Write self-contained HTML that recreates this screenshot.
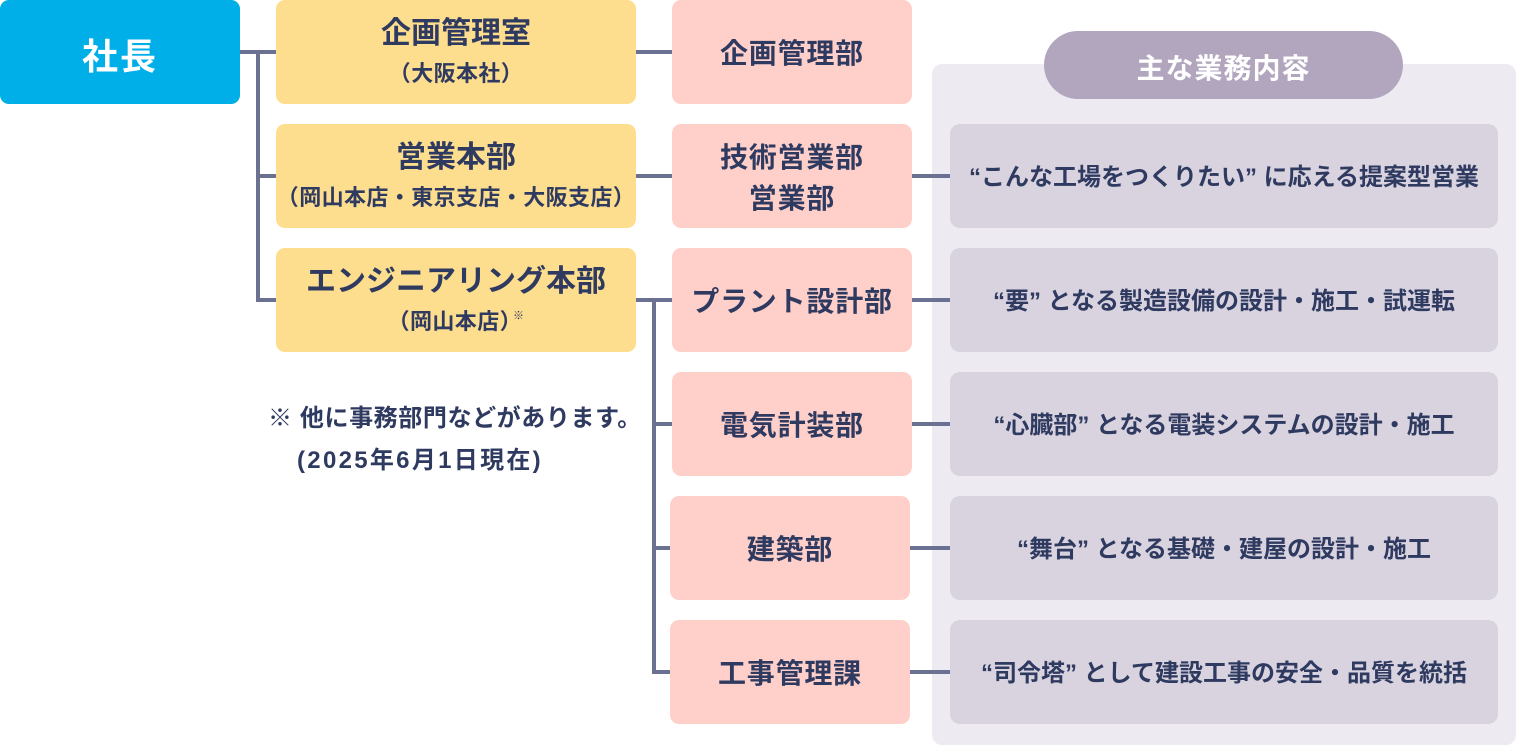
<!DOCTYPE html>
<html><head><meta charset="utf-8">
<style>
*{margin:0;padding:0;box-sizing:border-box}
html,body{width:1516px;height:746px;background:#fff;overflow:hidden}
body{position:relative;font-family:"Liberation Sans","Noto Sans CJK JP",sans-serif;font-weight:bold;color:#2f3a60}
.b{position:absolute;display:flex;flex-direction:column;align-items:center;justify-content:center;text-align:center;border-radius:9px;white-space:nowrap;padding-top:3px}
.ceo{left:0;top:0;width:240px;height:104px;background:#00aee8;color:#fff;font-size:36px;letter-spacing:2px}
.y{left:276px;width:360px;height:104px;background:#fddd8e}
.y .t{font-size:30px;line-height:40px;letter-spacing:0px}
.y .s{font-size:22px;line-height:40px;letter-spacing:0.4px}
.p{width:240px;height:104px;background:#ffd0ca;font-size:28px;letter-spacing:0.8px;line-height:41px}
.d{left:950px;width:548px;height:104px;background:#d9d3df;border-radius:10px;font-size:24px;line-height:30px}
.panel{position:absolute;left:932px;top:64px;width:584px;height:681px;background:#edebf1;border-radius:10px}
.pill{position:absolute;left:1044px;top:31px;width:359px;height:68px;background:#b2a6be;border-radius:34px;color:#fff;font-size:28px;letter-spacing:1px;display:flex;align-items:center;justify-content:center;padding-top:3px}
.l{position:absolute;background:#6b7190}
.note{position:absolute;font-size:24px;line-height:42px;white-space:nowrap}
sup{font-size:11px;vertical-align:top;position:relative;top:-6px;margin-left:-9px}
</style></head><body>

<div class="panel"></div>
<div class="pill">主な業務内容</div>

<!-- connectors -->
<div class="l" style="left:240px;top:50px;width:36px;height:4px"></div>
<div class="l" style="left:256px;top:50px;width:4px;height:252px"></div>
<div class="l" style="left:256px;top:174px;width:20px;height:4px"></div>
<div class="l" style="left:256px;top:298px;width:20px;height:4px"></div>

<div class="l" style="left:636px;top:50px;width:36px;height:4px"></div>
<div class="l" style="left:636px;top:174px;width:36px;height:4px"></div>
<div class="l" style="left:636px;top:298px;width:36px;height:4px"></div>
<div class="l" style="left:652px;top:298px;width:4px;height:376px"></div>
<div class="l" style="left:652px;top:422px;width:20px;height:4px"></div>
<div class="l" style="left:652px;top:546px;width:20px;height:4px"></div>
<div class="l" style="left:652px;top:670px;width:20px;height:4px"></div>

<div class="l" style="left:910px;top:174px;width:40px;height:4px"></div>
<div class="l" style="left:910px;top:298px;width:40px;height:4px"></div>
<div class="l" style="left:910px;top:422px;width:40px;height:4px"></div>
<div class="l" style="left:908px;top:546px;width:42px;height:4px"></div>
<div class="l" style="left:908px;top:670px;width:42px;height:4px"></div>

<div class="b ceo">社長</div>

<div class="b y" style="top:0"><div class="t">企画管理室</div><div class="s">（大阪本社）</div></div>
<div class="b y" style="top:124px"><div class="t">営業本部</div><div class="s">（岡山本店・東京支店・大阪支店）</div></div>
<div class="b y" style="top:248px"><div class="t">エンジニアリング本部</div><div class="s">（岡山本店）<sup>※</sup></div></div>

<div class="b p" style="left:672px;top:0">企画管理部</div>
<div class="b p" style="left:672px;top:124px"><div>技術営業部</div><div>営業部</div></div>
<div class="b p" style="left:672px;top:248px">プラント設計部</div>
<div class="b p" style="left:672px;top:372px">電気計装部</div>
<div class="b p" style="left:670px;top:496px">建築部</div>
<div class="b p" style="left:670px;top:620px">工事管理課</div>

<div class="b d" style="top:124px">“こんな工場をつくりたい” に応える提案型営業</div>
<div class="b d" style="top:248px">“要” となる製造設備の設計・施工・試運転</div>
<div class="b d" style="top:372px">“心臓部” となる電装システムの設計・施工</div>
<div class="b d" style="top:496px">“舞台” となる基礎・建屋の設計・施工</div>
<div class="b d" style="top:620px">“司令塔” として建設工事の安全・品質を統括</div>

<div class="note" style="left:268px;top:398px;letter-spacing:0.6px">※ 他に事務部門などがあります。</div>
<div class="note" style="left:297px;top:440px;letter-spacing:2.3px">(2025年6月1日現在)</div>

</body></html>
